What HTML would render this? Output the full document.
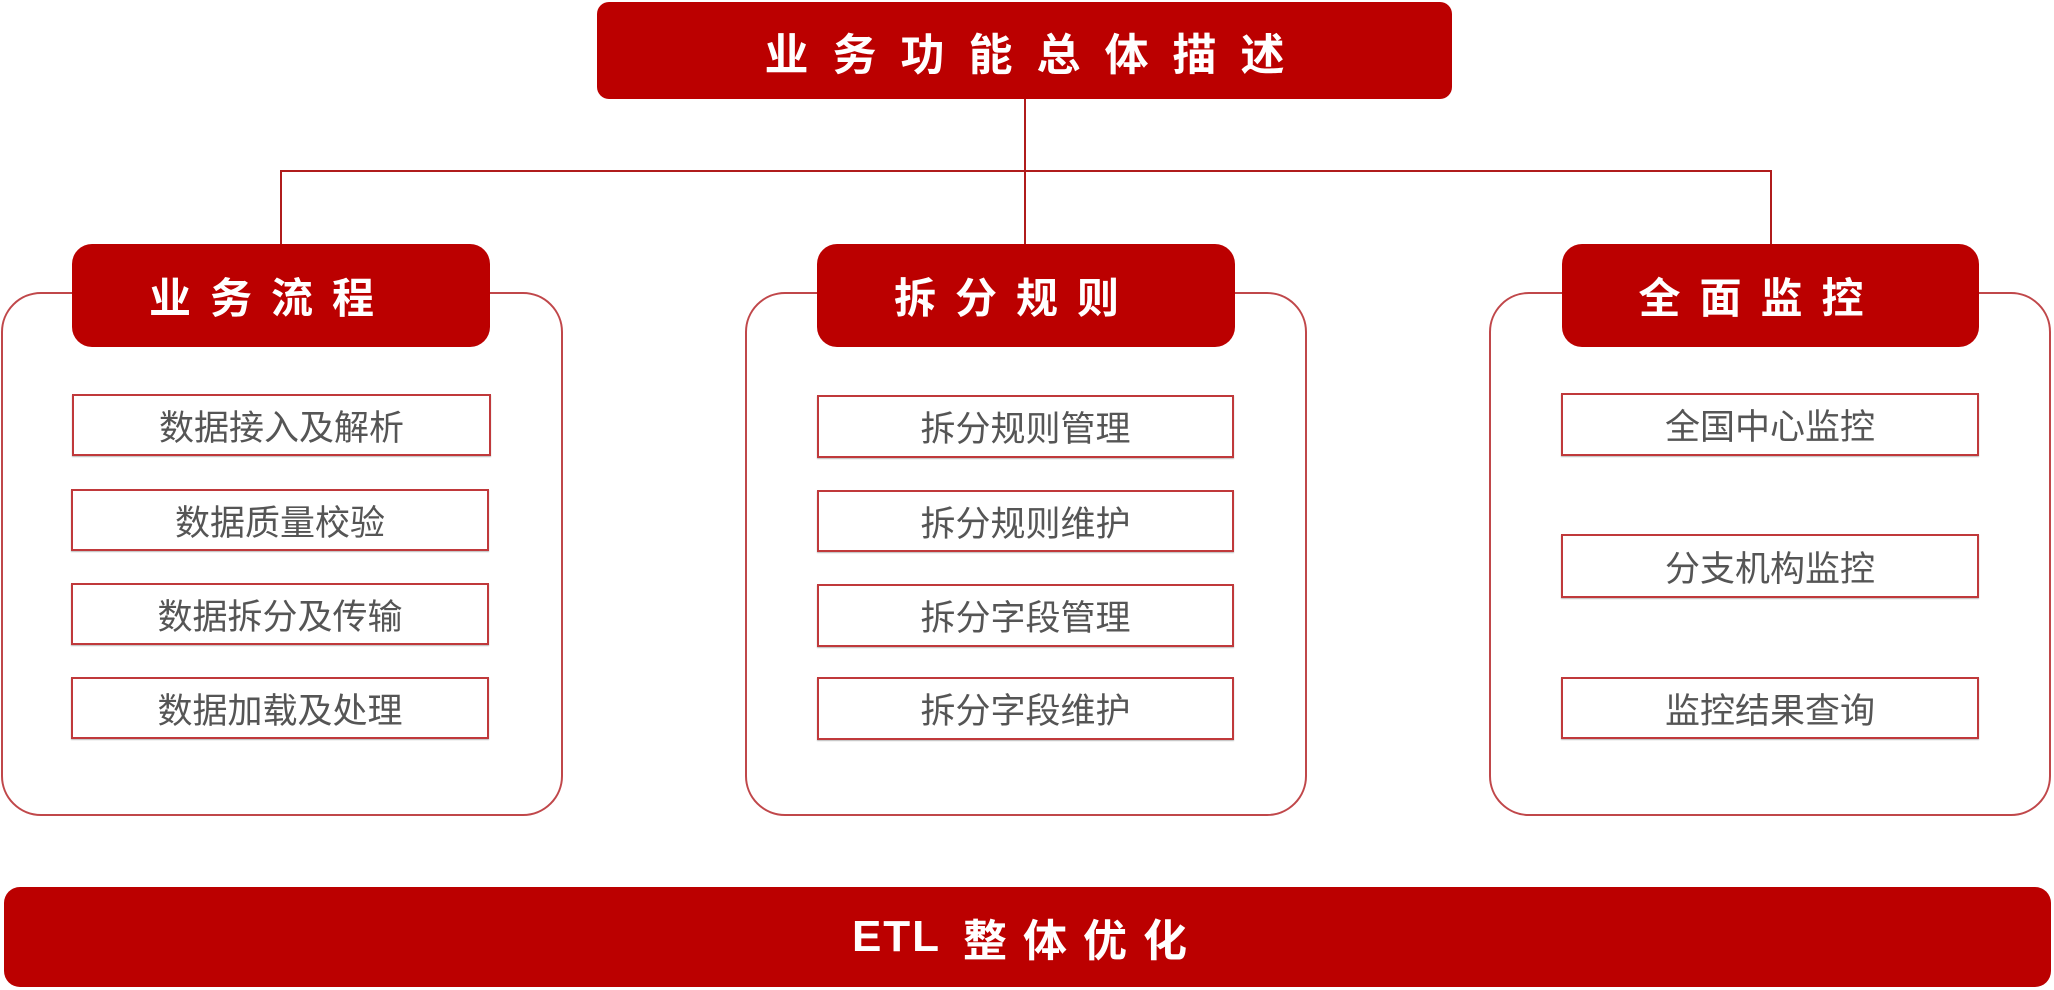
<!DOCTYPE html>
<html><head><meta charset="utf-8"><style>
body{margin:0;width:2054px;height:990px;background:#fff;position:relative;overflow:hidden;font-family:"Liberation Sans","Noto Sans CJK SC",sans-serif}
.a{position:absolute;box-sizing:border-box}
.red{background:#bb0000;color:#fff;font-weight:bold;display:flex;align-items:center;justify-content:center;border-radius:12px;white-space:nowrap}
.cont{border:2px solid #c0474a;border-radius:40px;background:#fff}
.item{border:2px solid #c0393b;background:#fff;color:#555;font-size:35px;display:flex;align-items:center;justify-content:center;box-shadow:0 1px 1px #bbb;white-space:nowrap}
.ln{position:absolute;background:#b01c1c}
.h{font-size:42px;letter-spacing:19px;padding-right:20px;border-radius:20px}
</style></head><body>
<div class="a red" style="left:597px;top:2px;width:855px;height:97px;font-size:44px;letter-spacing:24px;padding-left:24px">业务功能总体描述</div>
<div class="ln" style="left:1024px;top:99px;width:2px;height:146px"></div>
<div class="ln" style="left:281px;top:170px;width:1491px;height:2px"></div>
<div class="ln" style="left:280px;top:170px;width:2px;height:75px"></div>
<div class="ln" style="left:1770px;top:170px;width:2px;height:75px"></div>

<div class="a cont" style="left:1px;top:292px;width:562px;height:524px"></div>
<div class="a cont" style="left:745px;top:292px;width:562px;height:524px"></div>
<div class="a cont" style="left:1489px;top:292px;width:562px;height:524px"></div>

<div class="a red h" style="left:72px;top:244px;width:418px;height:103px">业务流程</div>
<div class="a red h" style="left:817px;top:244px;width:418px;height:103px">拆分规则</div>
<div class="a red h" style="left:1562px;top:244px;width:417px;height:103px">全面监控</div>

<div class="a item" style="left:72px;top:394px;width:419px;height:62px">数据接入及解析</div>
<div class="a item" style="left:71px;top:489px;width:418px;height:62px">数据质量校验</div>
<div class="a item" style="left:71px;top:583px;width:418px;height:62px">数据拆分及传输</div>
<div class="a item" style="left:71px;top:677px;width:418px;height:62px">数据加载及处理</div>

<div class="a item" style="left:817px;top:395px;width:417px;height:63px">拆分规则管理</div>
<div class="a item" style="left:817px;top:490px;width:417px;height:62px">拆分规则维护</div>
<div class="a item" style="left:817px;top:584px;width:417px;height:63px">拆分字段管理</div>
<div class="a item" style="left:817px;top:677px;width:417px;height:63px">拆分字段维护</div>

<div class="a item" style="left:1561px;top:393px;width:418px;height:63px">全国中心监控</div>
<div class="a item" style="left:1561px;top:534px;width:418px;height:64px">分支机构监控</div>
<div class="a item" style="left:1561px;top:677px;width:418px;height:62px">监控结果查询</div>

<div class="a red" style="left:4px;top:887px;width:2047px;height:100px;font-size:44px;border-radius:16px"><span style="letter-spacing:2px">ETL</span><span style="letter-spacing:16px;margin-left:22px">整体优化</span></div>
</body></html>
